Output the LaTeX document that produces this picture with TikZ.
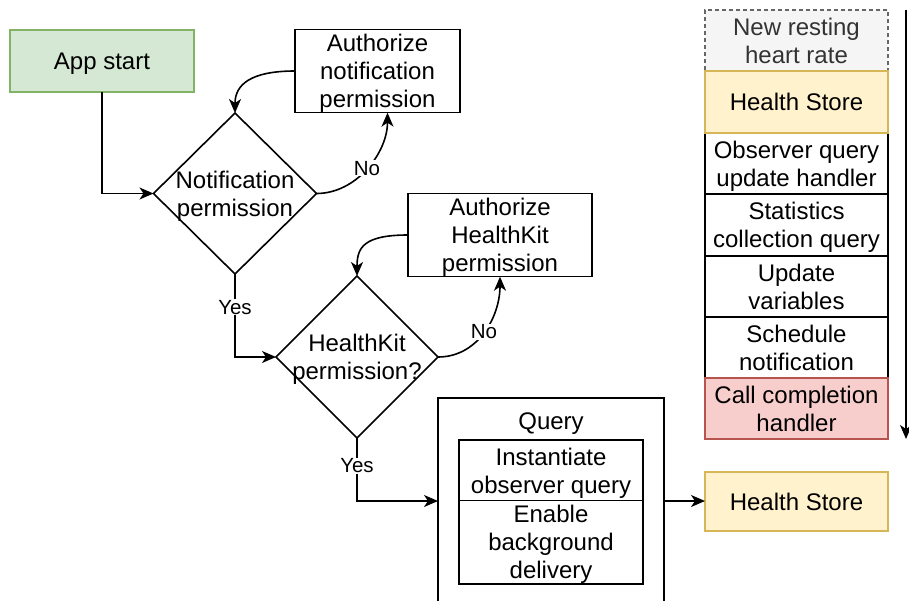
\documentclass[tikz,border=0pt]{standalone}
\usepackage{fontspec}
\setmainfont{Liberation Sans}
\usetikzlibrary{shapes.geometric,arrows.meta}
\definecolor{gfill}{HTML}{D5E8D4}
\definecolor{gline}{HTML}{82B366}
\definecolor{yfill}{HTML}{FFF2CC}
\definecolor{yline}{HTML}{D6B656}
\definecolor{rfill}{HTML}{F8CECC}
\definecolor{rline}{HTML}{B85450}
\definecolor{nfill}{HTML}{F5F5F5}
\definecolor{nline}{HTML}{666666}
\definecolor{ntext}{HTML}{333333}
\newcommand{\capstrut}{\rule[-4.8pt]{0pt}{27.2pt}}
\newcommand{\T}[1]{\capstrut#1\capstrut}
\begin{document}
\begin{tikzpicture}[x=1pt,y=-1pt,
  every node/.style={font=\fontsize{24}{28}\selectfont, align=center, inner sep=0pt, outer sep=0pt},
  bx/.style={draw=black, line width=1.6pt, rectangle, fill=white},
  dia/.style={draw=black, line width=1.6pt, diamond, fill=white},
  greenbox/.style={bx, draw=gline, fill=gfill},
  yellowbox/.style={bx, draw=yline, fill=yfill},
  redbox/.style={bx, draw=rline, fill=rfill},
  notebox/.style={bx, draw=nline, fill=nfill, text=ntext, dash pattern=on 4pt off 3pt},
  arr/.style={draw=black, line width=1.6pt, -{Stealth[length=14pt,width=12pt,inset=4pt]}},
  lbl/.style={fill=white, inner sep=1pt, font=\fontsize{20.5}{24}\selectfont}
]
\clip (0,0) rectangle (909,600);
\fill[white] (0,0) rectangle (909,600);

% left flow
\node[greenbox, minimum width=184pt, minimum height=62pt] (app) at (102,61) {\T{App start}};
\node[bx, minimum width=165pt, minimum height=82pt] (authN) at (377.5,71) {\T{Authorize\\notification\\permission}};
\node[dia, minimum width=163pt, minimum height=161pt,
  label={[font=\fontsize{24}{28}\selectfont, align=center]center:\T{Notification\\permission}}] (notif) at (235,193.5) {};
\node[bx, minimum width=184pt, minimum height=82pt] (authH) at (500,235) {\T{Authorize\\HealthKit\\permission}};
\node[dia, minimum width=162pt, minimum height=162pt,
  label={[font=\fontsize{24}{28}\selectfont, align=center]center:\T{HealthKit\\permission?}}] (hk) at (357,357) {};

% query container
\node[draw=black, line width=1.6pt, fill=white, minimum width=226pt, minimum height=206pt] (query) at (551,501) {};
\node (qtitle) at (551,421) {\T{Query}};
\node[bx, minimum width=184pt, minimum height=61pt] (inst) at (551,470.5) {\T{Instantiate\\observer query}};
\node[bx, minimum width=184pt, minimum height=82pt] (enab) at (551,542) {\T{Enable\\background\\delivery}};

\node[yellowbox, minimum width=183pt, minimum height=59pt] (hsb) at (796.5,501.5) {\T{Health Store}};

% right column
\node[notebox, minimum width=183pt, minimum height=61pt] (newhr) at (796.5,40.5) {\T{New resting\\heart rate}};
\node[bx, minimum width=183pt, minimum height=61pt] (obs) at (796.5,163.5) {\T{Observer query\\update handler}};
\node[bx, minimum width=183pt, minimum height=62pt] (stat) at (796.5,225) {\T{Statistics\\collection query}};
\node[bx, minimum width=183pt, minimum height=61pt] (upd) at (796.5,286.5) {\T{Update\\variables}};
\node[bx, minimum width=183pt, minimum height=61pt] (sch) at (796.5,347.5) {\T{Schedule\\notification}};
\node[yellowbox, minimum width=183pt, minimum height=62pt] (hs) at (796.5,102) {\T{Health Store}};
\node[redbox, minimum width=183pt, minimum height=61pt] (call) at (796.5,408.5) {\T{Call completion\\handler}};

\coordinate (rtop) at (906,10);
\coordinate (rbot) at (906,439);

% connectors
\draw[arr] (app.south) |- (notif.west);
\draw[arr] (authN.west) .. controls +(-45,0) and +(0,-28) .. (notif.north);
\draw[arr] (notif.east) .. controls +(40,0) and +(0,40) .. node[lbl, pos=0.5]{No} ([xshift=10pt]authN.south);
\draw[arr] (notif.south) |- node[lbl, pos=0.2]{Yes} (hk.west);
\draw[arr] (authH.west) .. controls +(-45,0) and +(0,-28) .. (hk.north);
\draw[arr] (hk.east) .. controls +(40,0) and +(0,40) .. node[lbl, pos=0.5]{No} (authH.south);
\draw[arr] (hk.south) |- node[lbl, pos=0.22]{Yes} (query.west);
\draw[arr] (query.east) -- (query.east -| hsb.west);
\draw[arr] (rtop) -- (rbot);
\end{tikzpicture}
\end{document}
